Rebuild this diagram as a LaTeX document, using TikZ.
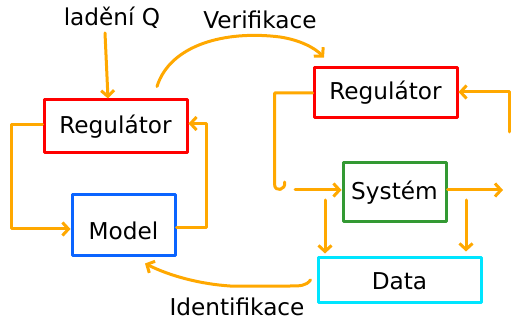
\documentclass[tikz,border=0pt]{standalone}
\usepackage{fontspec}
\setmainfont{DejaVu Sans}
\usetikzlibrary{arrows.meta}
\definecolor{lineor}{HTML}{FFA800}
\definecolor{boxred}{HTML}{FF0000}
\definecolor{boxblue}{HTML}{0A64FF}
\definecolor{boxgreen}{HTML}{339933}
\definecolor{boxcyan}{HTML}{00E5FF}
\begin{document}
\begin{tikzpicture}[x=1pt,y=-1pt,
  every node/.style={font=\fontsize{23.2}{27}\selectfont, inner sep=0pt},
  box/.style={draw, line width=3pt, line join=round},
  conn/.style={draw=lineor, line width=3pt, line cap=round, line join=round},
  arr/.style={conn, -{Straight Barb[length=6pt,width=13pt]}}]
\useasboundingbox (0,0) rectangle (511,320);
% boxes
\node[box, draw=boxred, minimum width=143pt, minimum height=53pt] (regL) at (115.5,126.5) {Regulátor};
\node[box, draw=boxblue, minimum width=103pt, minimum height=61pt, text height=29pt, text depth=0pt] (model) at (123.5,225.5) {Model};
\node[box, draw=boxred, minimum width=143pt, minimum height=50pt] (regR) at (385.5,93) {Regulátor};
\node[box, draw=boxgreen, minimum width=103pt, minimum height=59pt] (sys) at (394.5,192.5) {Systém};
\node[box, draw=boxcyan, minimum width=163pt, minimum height=44pt, text height=18pt, text depth=0pt] (data) at (399.5,280) {Data};
% labels
\node (ladeni) at (112,18) {ladění Q};
\node (verif) at (260,20) {Verifikace};
\node (ident) at (237,307) {Identifikace};
% connectors
\draw[arr] ([xshift=-7pt,yshift=-4pt]ladeni.south) -- ([xshift=-7.5pt]regL.north);
\coordinate (vmid) at (280,37);
\draw[arr] ([xshift=41.5pt,yshift=12pt]regL.north) .. controls (170,45) and (225,30) .. (vmid)
   .. controls (300,40) and (315,48) .. ([xshift=-61.5pt,yshift=9pt]regR.north);
\draw[arr] ([yshift=1.5pt]regL.west) -- ++(-31,0) |- ([yshift=-3.5pt]model.west);
\draw[arr] ([yshift=-2.5pt]model.east) -- ++(30,0) |- ([yshift=3pt]regL.east);
\draw[conn] (regR.west) -- ++(-38,0) -- ++(0,91) .. controls +(0,9) and +(2,8) .. ++(10,-2);
\coordinate (sin) at (295,190);
\draw[arr] (sin) -- (sin -| sys.west);
\coordinate (rin) at (509,132);
\draw[arr] (rin) -- (509,92) -- ([yshift=1pt]regR.east);
\coordinate (sout) at (503,190);
\draw[arr] (sout -| sys.east) -- (sout);
\coordinate (d1) at (325,200);
\coordinate (d2) at (466,200);
\draw[arr] (d1) -- ([yshift=3pt]d1 |- data.north);
\draw[arr] (d2) -- ([yshift=5pt]d2 |- data.north);
\draw[arr] ([xshift=-6pt]data.west) .. controls (306,286) and (300,286) .. (290,286) -- (230,286)
   .. controls (200,284) and (170,276) .. ([xshift=21.5pt,yshift=-6pt]model.south);
\end{tikzpicture}
\end{document}
